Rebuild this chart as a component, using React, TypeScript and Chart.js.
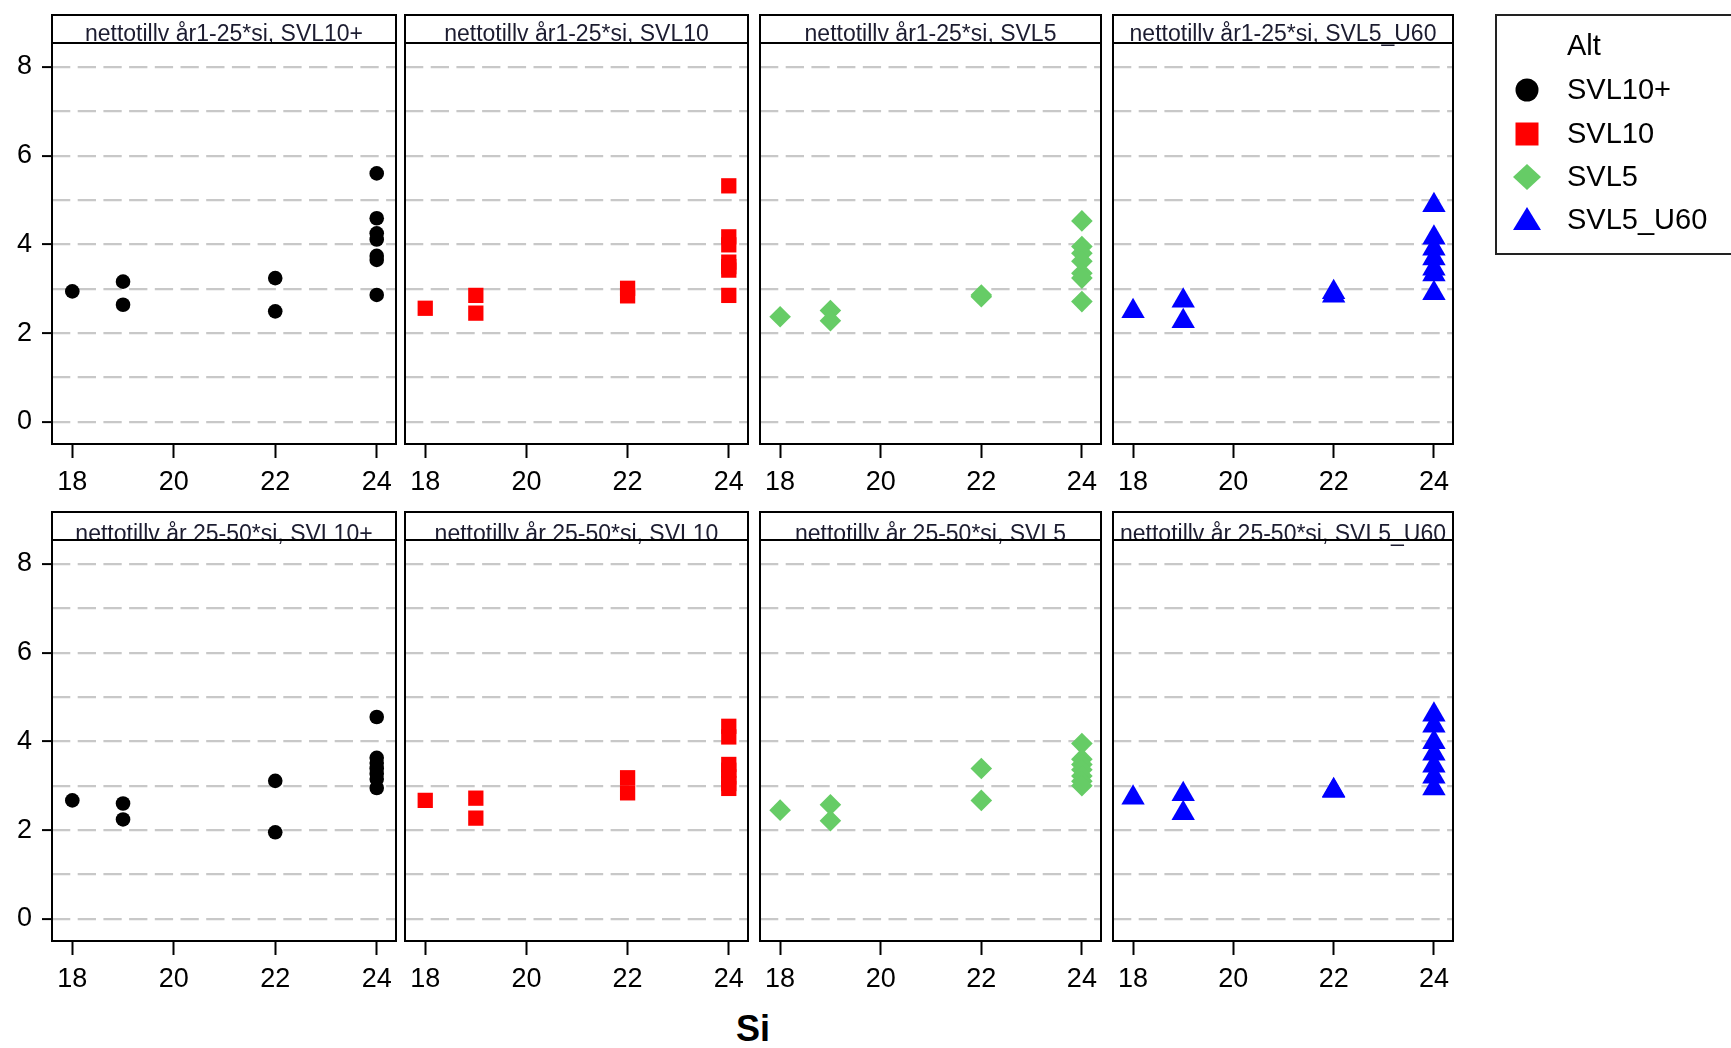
import React, { useEffect, useRef } from 'react';
import { Chart, registerables } from 'chart.js';

Chart.register(...registerables);

// ---------- data ----------
const alternatives = ['SVL10+', 'SVL10', 'SVL5', 'SVL5_U60'];
const periods = ['nettotillv år1-25*si', 'nettotillv år 25-50*si'];
const xTickValues = [18, 20, 22, 24];
const yTickValues = [0, 2, 4, 6, 8];
const yGridValues = [0, 1, 2, 3, 4, 5, 6, 7, 8];
const siObs = [18, 19, 19, 22, 22, 24, 24, 24, 24, 24, 24, 24];

const yr1_SVL10p = [2.94, 3.16, 2.64, 3.24, 2.49, 5.6, 4.59, 4.25, 4.11, 3.74, 3.65, 2.86];
const yr1_SVL10 = [2.56, 2.85, 2.45, 3.01, 2.84, 5.32, 4.17, 3.99, 3.6, 3.5, 3.42, 2.85];
const yr1_SVL5 = [2.37, 2.51, 2.28, 2.86, 2.82, 4.53, 3.95, 3.8, 3.62, 3.35, 3.24, 2.71];
const yr1_SVL5U60 = [2.49, 2.73, 2.27, 2.92, 2.84, 4.88, 4.15, 3.9, 3.68, 3.45, 3.32, 2.9];
const yr25_SVL10p = [2.67, 2.6, 2.24, 3.11, 1.95, 4.55, 3.63, 3.51, 3.39, 3.27, 3.15, 2.95];
const yr25_SVL10 = [2.67, 2.72, 2.27, 3.18, 2.84, 4.34, 4.1, 3.48, 3.35, 3.2, 3.05, 2.94];
const yr25_SVL5 = [2.45, 2.57, 2.21, 3.39, 2.67, 3.95, 3.6, 3.48, 3.36, 3.22, 3.1, 3.0];
const yr25_SVL5U60 = [2.73, 2.81, 2.38, 2.9, 2.88, 4.6, 4.35, 3.98, 3.72, 3.45, 3.2, 2.94];

const panelValues = [
  [yr1_SVL10p, yr1_SVL10, yr1_SVL5, yr1_SVL5U60],
  [yr25_SVL10p, yr25_SVL10, yr25_SVL5, yr25_SVL5U60],
];

const xAxisTitle = 'Si';
const legendTitle = 'Alt';

// ---------- styles ----------
const FONT = '"Liberation Sans", Arial, sans-serif';
const seriesColors = ['#000000', '#ff0000', '#66cc66', '#0000ff'];
const seriesShapes = ['circle', 'rect', 'rectRot', 'triangle'];
const seriesRadius = [7.3, 10.8, 10.8, 13.5];

// geometry (page pixels)
const PANEL_L = [52, 405, 760, 1113];
const PANEL_R = [396, 748, 1101, 1453];
const STRIP_TOP = [15, 512];
const PLOT_TOP = [43, 540];
const PLOT_BOTTOM = [444, 941];
const TITLE_BASELINE_OFFSET = [-2.5, 1];

function geometry(r: number, c: number) {
  const left = c === 0 ? 0 : PANEL_L[c] - 4;
  const top = STRIP_TOP[r] - 4;
  const right = r === 0 && c === 3 ? 1731 : PANEL_R[c] + 4;
  const bottom = PLOT_BOTTOM[r] + 60;
  return { left, top, w: right - left, h: bottom - top, right, bottom };
}

const facetPlugin = {
  id: 'facet',
  afterDraw(chart: any, _args: any, opts: any) {
    const { ctx, chartArea } = chart;
    const { left, right, top, bottom } = chartArea;
    const stripTop = top - opts.stripHeight;
    ctx.save();
    // strip text
    ctx.fillStyle = '#1c1c30';
    ctx.font = `23px ${FONT}`;
    ctx.textAlign = 'center';
    ctx.textBaseline = 'alphabetic';
    ctx.fillText(opts.title, (left + right) / 2, top + opts.baselineOffset);
    // frame
    ctx.strokeStyle = '#000';
    ctx.lineWidth = 2;
    ctx.strokeRect(left, stripTop, right - left, bottom - stripTop);
    ctx.beginPath();
    ctx.moveTo(left, top);
    ctx.lineTo(right, top);
    ctx.stroke();

    if (opts.legend) {
      const ox = opts.canvasLeft;
      const oy = opts.canvasTop;
      ctx.strokeStyle = '#222';
      ctx.lineWidth = 2;
      ctx.strokeRect(1496 - ox, 15 - oy, 1731 + 20 - 1496, 254 - 15);
      ctx.fillStyle = '#000';
      ctx.font = `29px ${FONT}`;
      ctx.textAlign = 'left';
      ctx.textBaseline = 'middle';
      const textX = 1567 - ox;
      const mx = 1527 - ox;
      ctx.fillText(legendTitle, textX, 47 - oy);
      const rows = [90, 134, 177, 220];
      alternatives.forEach((name, i) => {
        const y = rows[i] - oy;
        ctx.fillStyle = seriesColors[i];
        ctx.beginPath();
        if (i === 0) {
          ctx.arc(mx, y, 11.5, 0, Math.PI * 2);
        } else if (i === 1) {
          ctx.rect(mx - 11.5, y - 11.5, 23, 23);
        } else if (i === 2) {
          ctx.moveTo(mx - 14, y);
          ctx.lineTo(mx, y - 13);
          ctx.lineTo(mx + 14, y);
          ctx.lineTo(mx, y + 13);
          ctx.closePath();
        } else {
          ctx.moveTo(mx, y - 13);
          ctx.lineTo(mx + 14, y + 10);
          ctx.lineTo(mx - 14, y + 10);
          ctx.closePath();
        }
        ctx.fill();
        ctx.fillStyle = '#000';
        ctx.fillText(name, textX, y + 1);
      });
    }
    ctx.restore();
  },
};

function makeConfig(r: number, c: number): any {
  const g = geometry(r, c);
  const L = PANEL_L[c];
  const R = PANEL_R[c];
  const values = panelValues[r][c];
  return {
    type: 'scatter',
    data: {
      datasets: [
        {
          label: alternatives[c],
          data: values.map((y, i) => ({ x: siObs[i], y })),
          pointStyle: seriesShapes[c],
          pointRadius: seriesRadius[c],
          pointHoverRadius: seriesRadius[c],
          backgroundColor: seriesColors[c],
          borderColor: seriesColors[c],
          borderWidth: 0,
          showLine: false,
        },
      ],
    },
    options: {
      animation: false,
      responsive: false,
      maintainAspectRatio: false,
      events: [],
      layout: {
        autoPadding: false,
        padding: {
          left: c === 0 ? 0 : L - g.left,
          top: PLOT_TOP[r] - g.top,
          right: g.right - R,
          bottom: 0,
        },
      },
      plugins: {
        legend: { display: false },
        tooltip: { enabled: false },
        facet: {
          title: `${periods[r]}, ${alternatives[c]}`,
          stripHeight: PLOT_TOP[r] - STRIP_TOP[r],
          baselineOffset: TITLE_BASELINE_OFFSET[r],
          legend: r === 0 && c === 3,
          canvasLeft: g.left,
          canvasTop: g.top,
        },
      },
      scales: {
        x: {
          type: 'linear',
          min: 17.6,
          max: 24.38,
          afterBuildTicks: (s: any) => {
            s.ticks = xTickValues.map((v) => ({ value: v }));
          },
          afterFit: (s: any) => {
            s.height = g.bottom - PLOT_BOTTOM[r];
            s.paddingLeft = 0;
            s.paddingRight = 0;
            s.paddingTop = 0;
            s.paddingBottom = 0;
          },
          grid: {
            display: true,
            drawOnChartArea: false,
            drawTicks: true,
            tickLength: 14,
            tickColor: '#000',
            tickWidth: 2,
          },
          border: { display: false },
          ticks: {
            autoSkip: false,
            maxRotation: 0,
            padding: 8,
            color: '#000',
            font: { family: FONT, size: 27 },
            callback: (v: any) => String(v),
          },
        },
        y: {
          type: 'linear',
          min: -0.5,
          max: 8.54,
          afterBuildTicks: (s: any) => {
            s.ticks = yGridValues.map((v) => ({ value: v }));
          },
          afterFit: (s: any) => {
            s.width = c === 0 ? L : 0;
            s.paddingLeft = 0;
            s.paddingRight = 0;
            s.paddingTop = 0;
            s.paddingBottom = 0;
          },
          grid: {
            display: true,
            drawOnChartArea: true,
            drawTicks: c === 0,
            color: '#c8c8c8',
            lineWidth: 2.2,
            tickLength: 10,
            tickWidth: 2,
            tickColor: (ctx: any) =>
              ctx.tick && yTickValues.includes(ctx.tick.value) ? '#000' : 'rgba(0,0,0,0)',
          },
          border: { display: false, dash: [18.3, 7.4] },
          ticks: {
            display: c === 0,
            padding: 10,
            color: '#000',
            font: { family: FONT, size: 27 },
            callback: (v: any) => (yTickValues.includes(v) ? String(v) : ''),
          },
        },
      },
    },
    plugins: [facetPlugin],
  };
}

function Panel({ r, c }: { r: number; c: number }) {
  const ref = useRef<HTMLCanvasElement>(null);
  const g = geometry(r, c);
  useEffect(() => {
    if (!ref.current) return;
    const chart = new Chart(ref.current, makeConfig(r, c));
    return () => chart.destroy();
  }, [r, c]);
  return (
    <canvas
      ref={ref}
      width={g.w}
      height={g.h}
      style={{ position: 'absolute', left: g.left, top: g.top, width: g.w, height: g.h }}
    />
  );
}

export default function App() {
  const panels: React.ReactNode[] = [];
  for (let r = 0; r < 2; r++) {
    for (let c = 0; c < 4; c++) {
      panels.push(<Panel key={`${r}-${c}`} r={r} c={c} />);
    }
  }
  return (
    <div
      style={{
        position: 'absolute',
        left: 0,
        top: 0,
        width: 1731,
        height: 1048,
        overflow: 'hidden',
        background: '#fff',
      }}
    >
      {panels}
      <div
        style={{
          position: 'absolute',
          left: 653,
          width: 200,
          top: 1011,
          textAlign: 'center',
          fontFamily: FONT,
          fontWeight: 'bold',
          fontSize: 36,
          lineHeight: '36px',
          color: '#000',
        }}
      >
        {xAxisTitle}
      </div>
    </div>
  );
}
